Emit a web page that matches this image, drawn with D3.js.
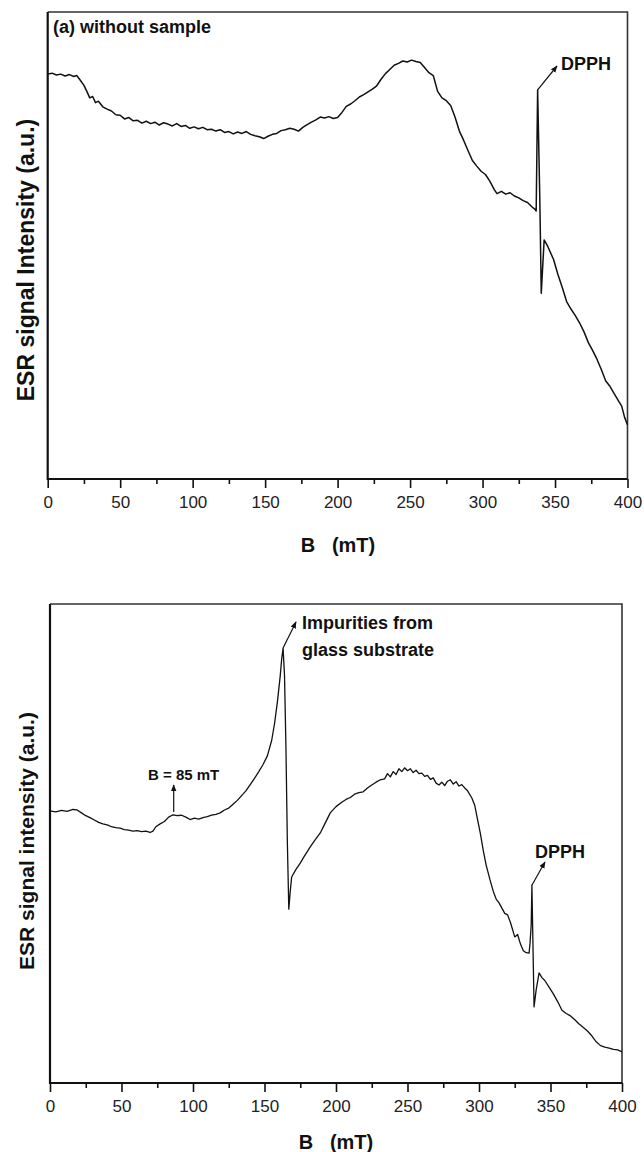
<!DOCTYPE html>
<html>
<head>
<meta charset="utf-8">
<script src="https://cdn.jsdelivr.net/npm/d3@7"></script>
<style>
  body { margin: 0; background: #fff; }
  svg { display: block; font-family: "Liberation Sans", Arial, sans-serif; }
  .tick text { font-size: 17px; fill: #222; }
</style>
</head>
<body>
<svg id="chart" width="644" height="1152"></svg>
<script>
// panel (a): field in mT, intensity in a.u. (0 = axis bottom, 100 = frame top)
var top_B = [0,3,6,9,12,15,18,20,22,25,27,29,31,33,35,38,41,44,47,50,53,56,59,62,65,68,71,74,77,80,83,86,89,92,95,98,101,104,107,110,113,116,119,122,125,128,131,134,137,140,143,146,149,152,155,158,161,164,167,170,173,176,179,182,185,188,191,194,197,200,203,206,209,212,215,218,221,224,227,230,233,236,239,242,245,248,251,254,257,260,263,266,269,272,275,278,281,284,287,290,293,296,299,302,305,308,310,313,316,319,322,325,328,331,334,336,337,338,339.5,340.5,342.5,345,349,352,355,358,361,364,367,370,373,376,379,382,385,388,391,394,396,398,400];
var top_I = [86.7,86.9,86.5,86.7,86.3,86.6,86.2,86.4,85.6,84.3,83.0,81.6,81.9,80.6,80.9,79.7,79.2,78.8,78.0,77.9,77.1,77.4,76.7,76.8,76.2,76.6,76.1,76.4,75.8,76.3,76.0,75.6,76.1,75.5,75.7,75.1,75.4,75.0,75.3,74.8,74.9,74.5,74.8,74.2,74.4,73.9,74.3,74.0,74.4,73.8,73.5,73.3,72.9,73.4,73.8,74.0,74.6,74.8,75.1,74.9,74.5,75.3,75.9,76.4,76.9,77.5,77.3,77.6,77.2,77.4,78.5,79.8,80.3,81.0,81.8,82.3,82.9,83.5,84.2,85.6,86.8,87.7,88.6,89.0,89.5,89.3,89.7,89.4,89.2,88.1,87.0,86.4,83.0,81.6,81.0,80.0,77.5,74.5,72.5,70.3,68.2,67.0,65.9,65.2,63.8,62.0,61.1,61.6,61.0,61.3,60.6,60.2,59.6,59.2,58.3,57.8,57.4,83.3,60.0,39.8,51.2,49.8,47.0,43.8,41.0,38.0,36.4,35.0,33.4,31.5,29.2,27.5,25.6,23.4,21.0,19.8,18.2,16.6,15.6,13.2,11.6];

// panel (b): with sample
var bot_B = [0,4,8,12,16,19,22,25,28,31,34,37,40,43,46,49,52,55,58,61,64,67,70,72,74,77,80,83,86,89,92,95,98,101,104,107,110,113,116,119,122,125,128,131,134,137,140,143,146,149,152,155,157,159,161,162,163,164,165,166,167,168,169,172,175,178,182,185,189,192,196,200,204,207,210,213,216,219,222,225,228,231,234,236,238,240,242,244,246,248,250,252,254,256,258,260,262,264,266,268,270,272,274,276,278,280,282,284,286,288,290,292,295,297,299,301,303,305,307.7,310,312,314,316,318,320,322,325,327,329,331,333,335,335.7,336.5,337,338.5,340,342,344,346,349,352,355,358,361,364,367,370,373,376,379,382,385,388,391,394,397,400];
var bot_I = [56.8,56.6,56.9,56.7,57.1,57.0,56.4,55.8,55.4,54.9,54.4,54.1,53.9,53.5,53.3,53.2,52.9,52.8,52.6,52.7,52.5,52.6,52.3,52.6,53.5,54.1,54.6,55.5,56.0,55.8,55.9,55.5,55.0,55.3,55.1,55.4,55.6,55.9,56.1,56.4,57.0,57.4,58.2,59.0,60.0,61.0,62.3,63.6,65.0,66.5,68.3,71.5,75.0,79.5,85.0,88.5,90.8,85.0,70.0,50.0,36.3,40.0,43.0,44.6,45.9,47.4,49.3,50.6,52.2,54.0,56.4,57.7,58.6,59.2,59.6,60.3,60.6,60.8,61.6,62.2,62.8,63.3,63.5,64.6,63.9,65.0,64.4,65.6,65.0,65.8,65.2,65.6,64.8,65.3,64.6,64.7,64.0,64.2,63.4,63.7,62.6,62.2,62.8,62.1,63.0,63.3,62.4,62.9,62.0,62.3,61.6,61.0,59.5,58.0,55.0,52.0,48.5,45.5,42.4,40.0,38.4,37.6,36.5,35.4,35.1,33.5,30.5,31.0,29.0,27.6,27.2,27.1,29.2,33.0,41.3,15.9,19.5,23.0,22.0,21.4,20.0,18.6,17.0,15.2,14.5,14.0,13.2,12.3,11.6,10.8,9.8,8.6,7.8,7.5,7.3,7.0,6.9,6.5];

var majorTicks = [0, 50, 100, 150, 200, 250, 300, 350, 400];
var minorTicks = [25, 75, 125, 175, 225, 275, 325, 375];

var svg = d3.select("#chart");

svg.append("defs").append("marker")
	.attr("id", "arrow")
	.attr("viewBox", "0 0 10 10")
	.attr("refX", 9).attr("refY", 5)
	.attr("markerWidth", 7).attr("markerHeight", 7)
	.attr("markerUnits", "userSpaceOnUse")
	.attr("orient", "auto")
	.append("path")
	.attr("d", "M0,1 L10,5 L0,9 Z")
	.attr("fill", "#111");

function draw_panel(box, bs, vals, ytitle, ycenter, yfont, lw) {
	var x = d3.scaleLinear().domain([0, 400]).range([box.left, box.right]);
	var y = d3.scaleLinear().domain([0, 100]).range([box.bottom, box.top]);

	// top + right frame
	svg.append("path")
		.attr("d", "M" + box.left + "," + box.top + "H" + box.right + "V" + box.bottom)
		.attr("fill", "none").attr("stroke", "#333").attr("stroke-width", 1.6);

	var g = svg.append("g").attr("transform", "translate(0," + box.bottom + ")");
	g.call(d3.axisBottom(x).tickValues(majorTicks).tickSize(9).tickPadding(8).tickFormat(d3.format("d")));
	g.call(function (s) { s.select(".domain").remove(); });
	g.selectAll(".tick line").attr("stroke", "#111").attr("stroke-width", 1.6);

	var gm = svg.append("g").attr("transform", "translate(0," + box.bottom + ")");
	gm.call(d3.axisBottom(x).tickValues(minorTicks).tickSize(5).tickFormat(""));
	gm.select(".domain").remove();
	gm.selectAll(".tick line").attr("stroke", "#111").attr("stroke-width", 1.6);

	// left + bottom axis lines
	svg.append("path")
		.attr("d", "M" + box.left + "," + box.top + "V" + box.bottom + "H" + box.right)
		.attr("fill", "none").attr("stroke", "#111").attr("stroke-width", 2.2);

	var pts = bs.map(function (b, i) { return [b, vals[i]]; });
	svg.append("path")
		.datum(pts)
		.attr("d", d3.line().x(function (d) { return x(d[0]); }).y(function (d) { return y(d[1]); }))
		.attr("fill", "none").attr("stroke", "#111").attr("stroke-width", lw)
		.attr("stroke-linejoin", "round");

	svg.append("text")
		.attr("transform", "translate(" + 34 + "," + ycenter + ") rotate(-90)")
		.attr("text-anchor", "middle")
		.attr("font-size", yfont).attr("font-weight", "bold").attr("fill", "#111")
		.text(ytitle);

	return { x: x, y: y };
}

var pa = draw_panel({ left: 47.7, right: 627.5, top: 12, bottom: 479 }, top_B, top_I,
	"ESR signal Intensity (a.u.)", 260, 23, 1.5);
var pb = draw_panel({ left: 50, right: 622, top: 604, bottom: 1083 }, bot_B, bot_I,
	"ESR signal intensity (a.u.)", 841, 21, 1.3);

// x titles
svg.append("text").attr("x", 338).attr("y", 552).attr("text-anchor", "middle")
	.attr("font-size", 20).attr("font-weight", "bold").attr("fill", "#111")
	.style("white-space", "pre").text("B   (mT)");
svg.append("text").attr("x", 336).attr("y", 1149).attr("text-anchor", "middle")
	.attr("font-size", 20).attr("font-weight", "bold").attr("fill", "#111")
	.style("white-space", "pre").text("B   (mT)");

// annotations
function label(txt, x, yb, size) {
	svg.append("text").attr("x", x).attr("y", yb)
		.attr("font-size", size).attr("font-weight", "bold").attr("fill", "#111")
		.style("white-space", "pre").text(txt);
}
function arrow(x1, y1, x2, y2) {
	svg.append("line").attr("x1", x1).attr("y1", y1).attr("x2", x2).attr("y2", y2)
		.attr("stroke", "#111").attr("stroke-width", 1.2).attr("marker-end", "url(#arrow)");
}

label("(a) without sample", 53, 33, 18);
label("DPPH", 561, 70, 18);
arrow(pa.x(338), pa.y(83.3), 557, 66);

label("Impurities from", 302, 629, 18);
label("glass substrate", 302, 656, 18);
arrow(pb.x(163), pb.y(90.8), 296, 622);

label("B = 85 mT", 148, 780, 15);
arrow(pb.x(86.5), 812, pb.x(86.5), 785);

label("DPPH", 535, 858, 18);
arrow(pb.x(337), pb.y(41.3), 545, 862);
</script>
</body>
</html>
